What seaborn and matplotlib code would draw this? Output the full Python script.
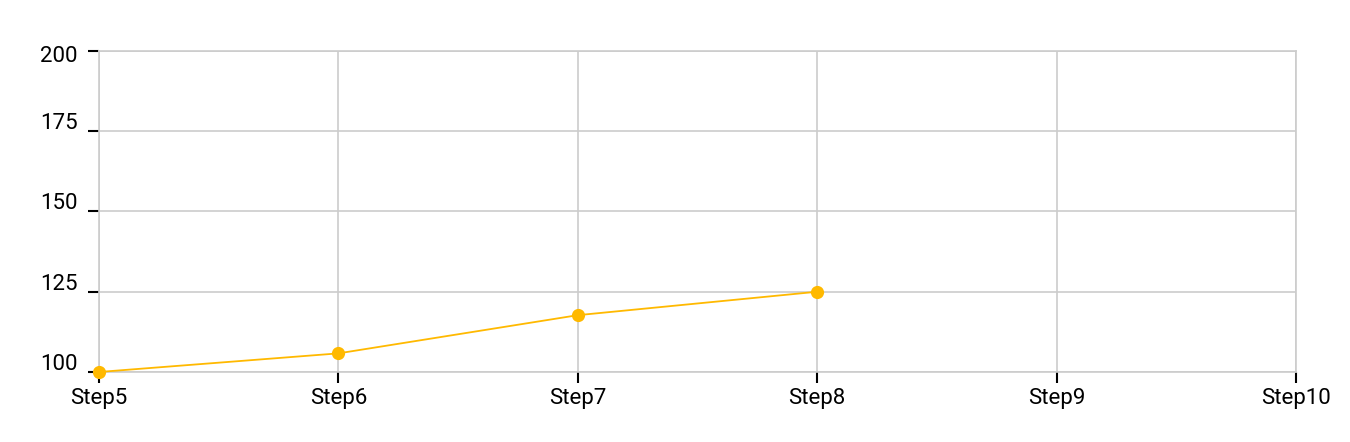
import numpy as np
import pandas as pd
import matplotlib
matplotlib.use('Agg')
import matplotlib.pyplot as plt
import matplotlib.transforms as mtransforms
import seaborn as sns

steps = ['Step5', 'Step6', 'Step7', 'Step8', 'Step9', 'Step10']
valores = [100, 105.8, 117.7, 125]
y_ticks = [100, 125, 150, 175, 200]

sns.set_style('white')
plt.rcParams['font.family'] = ['Roboto', 'DejaVu Sans']

df = pd.DataFrame({'step': steps[:len(valores)], 'valor': valores})

fig, ax = plt.subplots(figsize=(13.5, 4.42), dpi=100)
fig.subplots_adjust(left=0.0733, right=0.96, top=0.8846, bottom=0.1584)

sns.lineplot(df, x='step', y='valor', color='#FFB900', linewidth=1.3,
             marker='o', markersize=9.5, markeredgewidth=0, ax=ax, zorder=3,
             clip_on=False)

ax.set_xticks(range(len(steps)), labels=steps)
ax.set_xlim(0, len(steps) - 1)
ax.set_yticks(y_ticks)
ax.set_ylim(100, 200)
ax.set_xlabel('')
ax.set_ylabel('')

ax.grid(True, color='#cccccc', linewidth=1.2)
for s in ax.spines.values():
    s.set_visible(True)
    s.set_color('#cccccc')
    s.set_linewidth(1.2)
ax.tick_params(axis='both', colors='black', labelsize=16, length=8, width=1.5,
               direction='out', bottom=True, left=True)
ax.tick_params(axis='y', pad=7.5)
ax.tick_params(axis='x', pad=3.5)

# rótulos do eixo y ficam um pouco acima do tick (o de cima fica abaixo)
for i, lab in enumerate(ax.get_yticklabels()):
    dy = -3 if i == len(y_ticks) - 1 else 10
    lab.set_transform(lab.get_transform() +
                      mtransforms.ScaledTranslation(0, dy / fig.dpi, fig.dpi_scale_trans))

plt.savefig('out.png', dpi=100)
